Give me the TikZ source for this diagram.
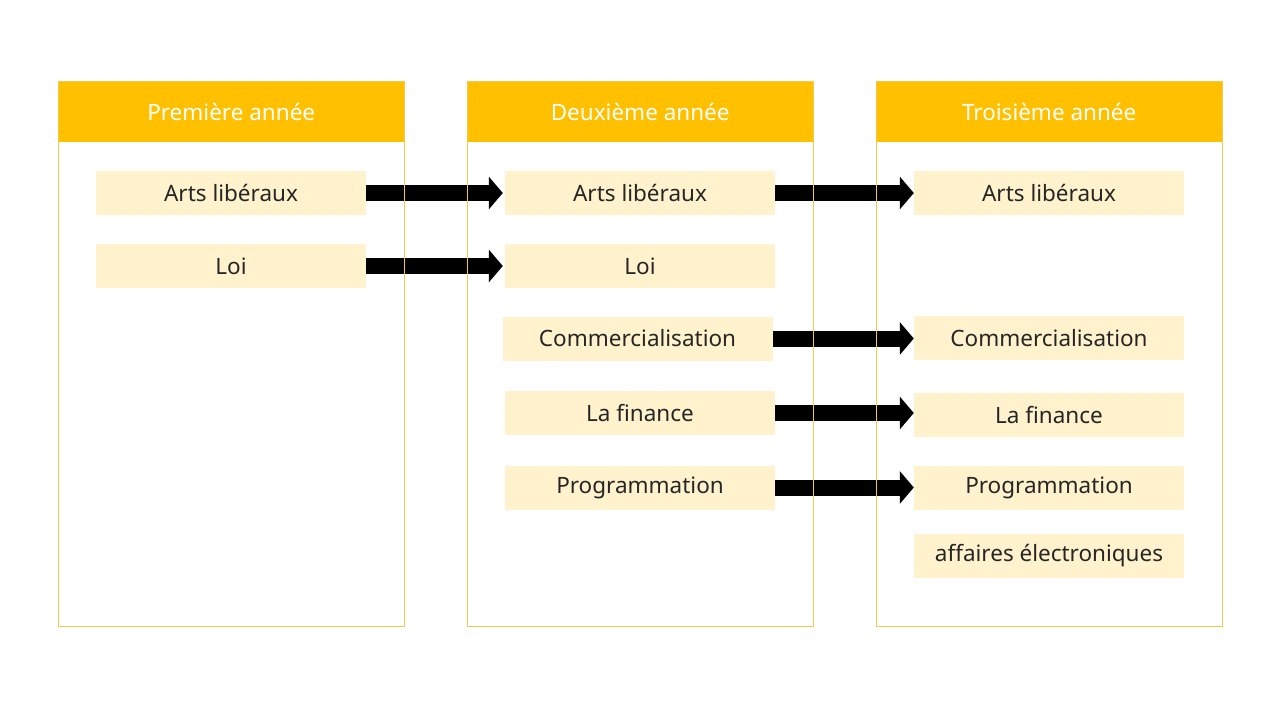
\documentclass[tikz,border=0pt]{standalone}
\usepackage{fontspec}
\setmainfont{Noto Sans}
\usetikzlibrary{arrows.meta}
\definecolor{hdr}{HTML}{FFC000}
\definecolor{itm}{HTML}{FFF2CC}
\definecolor{brd}{HTML}{F2C94C}
\tikzset{
  colbox/.style={draw=brd, line width=0.9pt, fill=white},
  hdrbox/.style={fill=hdr, draw=none, text=white, font=\fontsize{22.5}{26}\selectfont, anchor=north west, minimum width=346pt, minimum height=61pt, inner sep=0pt},
  item/.style={fill=itm, draw=none, text=black!85, font=\fontsize{22.5}{26}\selectfont, minimum width=270pt, minimum height=44pt, inner sep=0pt},
  bigarrow/.style={line width=16pt, -{Triangle[length=14pt,width=32pt]}},
}
\begin{document}
\begin{tikzpicture}[x=1pt,y=-1pt]
\useasboundingbox (0,0) rectangle (1280,720);
% columns
\foreach \x in {58,467,876} {\draw[colbox] (\x,81) rectangle (\x+346,626);}
\node[hdrbox] (h1) at (58,81) {Première année};
\node[hdrbox] (h2) at (467,81) {Deuxième année};
\node[hdrbox] (h3) at (876,81) {Troisième année};
% items column 1
\node[item] (a1) at (231,193) {Arts libéraux};
\node[item] (a2) at (231,266) {Loi};
% column 2
\node[item] (b1) at (640,193) {Arts libéraux};
\node[item] (b2) at (640,266) {Loi};
\node[item] (b3) at (637.5,338.5) {Commercialisation};
\node[item] (b4) at (640,413) {La finance};
\node[item] (b5) at (640,487.5) {Programmation};
% column 3
\node[item] (c1) at (1049,193) {Arts libéraux};
\node[item] (c2) at (1049,338) {Commercialisation};
\node[item] (c3) at (1049,415) {La finance};
\node[item] (c4) at (1049,488) {Programmation};
\node[item] (c5) at (1049,556) {affaires électroniques};
% arrows
\draw[bigarrow] (a1.east) -- ([xshift=-2pt]b1.west);
\draw[bigarrow] (a2.east) -- ([xshift=-2pt]b2.west);
\draw[bigarrow] (b1.east) -- (b1.east -| c1.west);
\draw[bigarrow] (b3.east) -- (b3.east -| c2.west);
\draw[bigarrow] (b4.east) -- (b4.east -| c3.west);
\draw[bigarrow] (b5.east) -- (b5.east -| c4.west);
% column borders over arrows
\foreach \x in {58,467,876} {\draw[brd, line width=0.9pt] (\x,81) rectangle (\x+346,626);}
\end{tikzpicture}
\end{document}
